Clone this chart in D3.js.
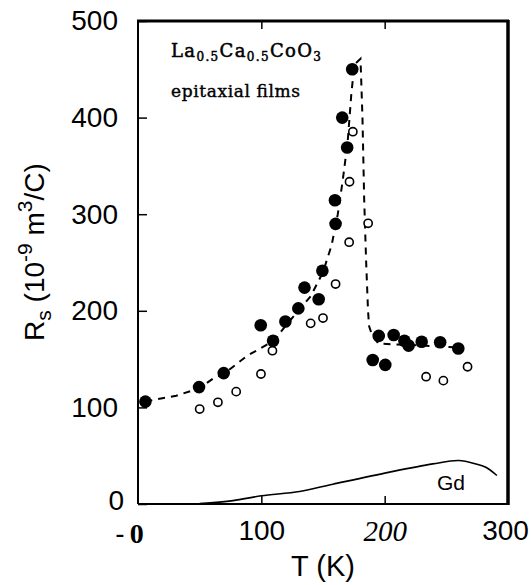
<!DOCTYPE html>
<html>
<head>
<meta charset="utf-8">
<script src="https://cdn.jsdelivr.net/npm/d3@7"></script>
<style>
  html, body { margin: 0; padding: 0; background: #fff; }
  svg { display: block; }
</style>
</head>
<body>
<svg id="chart" width="531" height="585"></svg>
<script>
// ---- data ----
const xTicks = [0, 100, 200, 300];
const yTicks = [0, 100, 200, 300, 400, 500];

// filled circles: temperature (K), Rs (1e-9 m^3/C)
const filledT = [6, 49.5, 69.5, 99.5, 109.5, 119.5, 130, 135, 146.5, 149.5, 159.7, 160.2, 165.6, 169.6, 173.7,
                 190.3, 195.2, 200.5, 207.3, 216, 219.4, 230, 245, 259.7];
const filledR = [106, 121, 135.5, 185, 169, 189, 202.5, 224, 212, 241.5, 314.5, 290, 400, 369, 450,
                 149, 174, 144, 175, 169, 164, 168, 167.5, 161];

// open circles
const openT = [50, 64.8, 79.6, 99.7, 109, 140, 150, 160.2, 171.2, 171.5, 174.2, 186.6, 233.6, 247.6, 267.2];
const openR = [98.3, 105.3, 116.3, 134.6, 158.7, 187, 192.5, 227.7, 271, 333.6, 385.4, 290.6, 131.8, 127.7, 142.1];

// dashed guide curve
const fitT = [6, 15, 31, 50, 61, 70, 88, 110, 120, 130, 140, 150, 157, 162, 166, 170, 173, 175.5, 180.4,
              182, 183.4, 185, 186.5, 187.4, 190, 195, 230, 262];
const fitR = [106, 108.5, 112, 120, 130, 135, 153, 169, 185, 200, 215, 240, 268, 300, 335, 375, 425, 455, 461,
              400, 315, 250, 200, 184, 174, 166, 164, 162];

// Gd reference curve
const gdT = [50, 77, 100, 131, 158, 204, 239, 260, 274, 282, 291];
const gdR = [0.5, 3.5, 8.5, 13, 20.5, 33, 41.5, 45, 41.5, 38, 29.5];

// ---- drawing ----
const svg = d3.select("#chart");
const x = d3.scaleLinear().domain([0, 300]).range([138, 508]);
const y = d3.scaleLinear().domain([0, 500]).range([504, 21]);
const SANS = "'Liberation Sans', Arial, Helvetica, sans-serif";
const SERIF = "'DejaVu Serif', 'Liberation Serif', serif";

// Gd curve
const gd = gdT.map((t, i) => [t, gdR[i]]);
svg.append("path")
  .attr("d", d3.line().x(d => x(d[0])).y(d => y(d[1])).curve(d3.curveCatmullRom)(gd))
  .attr("fill", "none").attr("stroke", "#000").attr("stroke-width", 1.6);
svg.append("text").attr("x", 437).attr("y", 490)
  .attr("font-family", SANS).attr("font-size", 21).text("Gd");

// dashed guide
const fit = fitT.map((t, i) => [t, fitR[i]]);
svg.append("path")
  .attr("d", d3.line().x(d => x(d[0])).y(d => y(d[1])).curve(d3.curveLinear)(fit))
  .attr("fill", "none").attr("stroke", "#000").attr("stroke-width", 2)
  .attr("stroke-dasharray", "7,6");

// open circles
svg.append("g").selectAll("circle").data(openT.map((t, i) => [t, openR[i]])).join("circle")
  .attr("cx", d => x(d[0])).attr("cy", d => y(d[1])).attr("r", 4.1)
  .attr("fill", "#fff").attr("stroke", "#000").attr("stroke-width", 1.6);

// filled circles
svg.append("g").selectAll("circle").data(filledT.map((t, i) => [t, filledR[i]])).join("circle")
  .attr("cx", d => x(d[0])).attr("cy", d => y(d[1])).attr("r", 6.3)
  .attr("fill", "#000");

// axes (inward ticks)
const gx = svg.append("g").attr("transform", `translate(0,${y(0)})`)
  .call(d3.axisBottom(x).tickValues(xTicks).tickSize(-8).tickPadding(16));
const gy = svg.append("g").attr("transform", `translate(${x(0)},0)`)
  .call(d3.axisLeft(y).tickValues(yTicks).tickSize(-9).tickPadding(20));
const gt = svg.append("g").attr("transform", `translate(0,${y(500)})`)
  .call(d3.axisTop(x).tickValues([100, 200]).tickSize(-8).tickFormat(""));
[gx, gy, gt].forEach(g => {
  g.select(".domain").remove();
  g.selectAll(".tick line").attr("stroke", "#000").attr("stroke-width", 1.5);
  g.selectAll("text").attr("font-family", SANS).attr("font-size", 28).attr("fill", "#000");
});
gy.selectAll(".tick").filter(d => d === 0).select("text").attr("dx", 6).attr("y", -3);
gx.selectAll(".tick").filter(d => d === 0 || d === 300).select("line").remove();
gx.selectAll(".tick text").each(function(d) {
  const t = d3.select(this);
  if (d === 0) {
    t.text("");
    t.append("tspan").attr("font-family", SANS).text("-");
    t.append("tspan").attr("dx", 5).attr("font-family", "'Liberation Serif', serif")
      .attr("font-weight", "bold").text("0");
    t.attr("x", -9).attr("y", 19);
  } else if (d === 200) {
    t.attr("font-family", "'Liberation Serif', serif").attr("font-style", "italic").attr("font-size", 29);
  } else if (d === 300) {
    t.attr("x", -3);
  }
});

// frame
const fr = svg.append("g").attr("stroke", "#000");
fr.append("line").attr("x1", x(0)).attr("x2", x(0)).attr("y1", y(0)).attr("y2", y(500)).attr("stroke-width", 2);
fr.append("line").attr("x1", x(0)).attr("x2", x(300)).attr("y1", y(0)).attr("y2", y(0)).attr("stroke-width", 2);
fr.append("line").attr("x1", x(0) - 1).attr("x2", x(300) + 1).attr("y1", y(500)).attr("y2", y(500)).attr("stroke-width", 3);
fr.append("line").attr("x1", x(300)).attr("x2", x(300)).attr("y1", y(0) + 1).attr("y2", y(500) - 1).attr("stroke-width", 3.5);

// title
const t1 = svg.append("text").attr("x", 171).attr("y", 57)
  .attr("font-family", SERIF).attr("font-size", 18)
  .attr("stroke", "#000").attr("stroke-width", 0.5)
  .attr("textLength", 150).attr("lengthAdjust", "spacing");
t1.append("tspan").text("La");
t1.append("tspan").attr("font-size", 12).attr("dy", 4).text("0.5");
t1.append("tspan").attr("dy", -4).text("Ca");
t1.append("tspan").attr("font-size", 12).attr("dy", 4).text("0.5");
t1.append("tspan").attr("dy", -4).text("CoO");
t1.append("tspan").attr("font-size", 12).attr("dy", 4).text("3");
svg.append("text").attr("x", 171).attr("y", 97)
  .attr("font-family", SERIF).attr("font-size", 17)
  .attr("textLength", 129).attr("lengthAdjust", "spacing")
  .attr("stroke", "#000").attr("stroke-width", 0.4)
  .text("epitaxial films");

// axis titles
svg.append("text").attr("x", 323).attr("y", 576).attr("text-anchor", "middle")
  .attr("font-family", SANS).attr("font-size", 29).text("T (K)");

const yl = svg.append("text").attr("transform", "translate(44,252) rotate(-90)")
  .attr("text-anchor", "middle").attr("font-family", SANS).attr("font-size", 28);
yl.append("tspan").text("R");
yl.append("tspan").attr("font-size", 21).attr("dy", 7).text("s");
yl.append("tspan").attr("dy", -7).text(" (10");
yl.append("tspan").attr("font-size", 21).attr("dy", -12).text("-9");
yl.append("tspan").attr("dy", 12).text(" m");
yl.append("tspan").attr("font-size", 21).attr("dy", -12).text("3");
yl.append("tspan").attr("dy", 12).text("/C)");
</script>
</body>
</html>
